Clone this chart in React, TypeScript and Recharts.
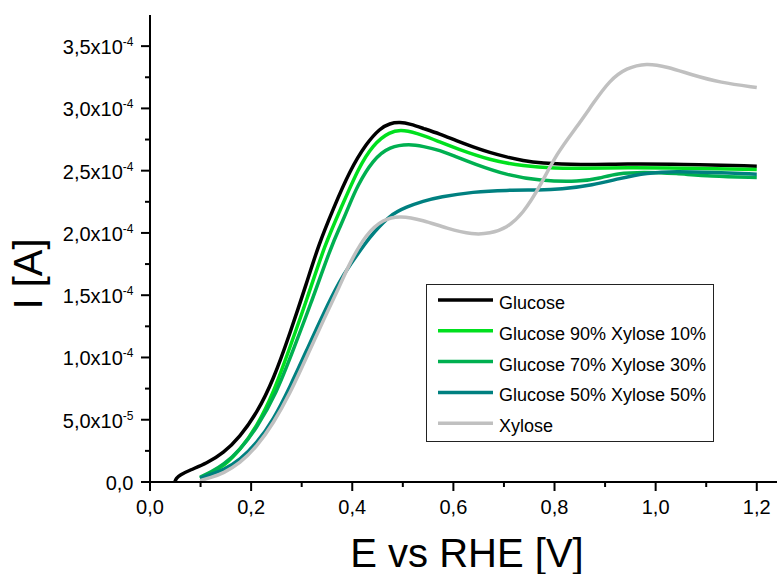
import React from 'react';
import { LineChart, Line, XAxis, YAxis, Legend } from 'recharts';

const FONT = '"Liberation Sans", Arial, Helvetica, sans-serif';

// potential E vs RHE [V] and current I [A], one pair of arrays per solution
const glucoseE = [0.049, 0.052, 0.059, 0.079, 0.112, 0.145, 0.178, 0.211, 0.244, 0.277, 0.31, 0.333, 0.362, 0.395, 0.428, 0.455, 0.474, 0.494, 0.515, 0.54, 0.573, 0.606, 0.639, 0.672, 0.705, 0.738, 0.771, 0.85, 0.942, 1.048, 1.2];
const glucoseI = [0, 0.3e-5, 0.56e-5, 0.96e-5, 1.5e-5, 2.3e-5, 3.64e-5, 5.51e-5, 8.19e-5, 11.96e-5, 16.0e-5, 19.0e-5, 21.9e-5, 25.0e-5, 27.2e-5, 28.4e-5, 28.8e-5, 28.9e-5, 28.75e-5, 28.4e-5, 27.95e-5, 27.4e-5, 26.9e-5, 26.45e-5, 26.1e-5, 25.8e-5, 25.6e-5, 25.45e-5, 25.55e-5, 25.52e-5, 25.36e-5];

const g90E = [0.099, 0.12, 0.145, 0.178, 0.211, 0.244, 0.277, 0.31, 0.346, 0.379, 0.412, 0.441, 0.474, 0.501, 0.54, 0.573, 0.606, 0.672, 0.738, 0.804, 0.85, 0.95, 1.048, 1.2];
const g90I = [0.3e-5, 0.75e-5, 1.23e-5, 2.57e-5, 4.44e-5, 7.12e-5, 10.86e-5, 14.61e-5, 19.1e-5, 22.1e-5, 25.2e-5, 27.1e-5, 28.15e-5, 28.3e-5, 27.85e-5, 27.3e-5, 26.78e-5, 25.84e-5, 25.36e-5, 25.18e-5, 25.18e-5, 25.25e-5, 25.2e-5, 25.1e-5];

const g70E = [0.099, 0.12, 0.145, 0.178, 0.211, 0.25, 0.283, 0.316, 0.359, 0.376, 0.395, 0.409, 0.441, 0.474, 0.514, 0.54, 0.573, 0.606, 0.639, 0.705, 0.771, 0.85, 0.89, 0.923, 0.975, 1.041, 1.107, 1.2];
const g70I = [0.38e-5, 0.8e-5, 1.36e-5, 2.57e-5, 4.33e-5, 7.12e-5, 10.59e-5, 14.07e-5, 19.0e-5, 20.49e-5, 22.3e-5, 23.7e-5, 25.9e-5, 26.95e-5, 27.15e-5, 26.95e-5, 26.65e-5, 26.1e-5, 25.58e-5, 24.64e-5, 24.18e-5, 24.1e-5, 24.4e-5, 24.78e-5, 24.9e-5, 24.78e-5, 24.56e-5, 24.46e-5];

const g50E = [0.099, 0.12, 0.145, 0.178, 0.211, 0.244, 0.277, 0.31, 0.343, 0.376, 0.395, 0.428, 0.441, 0.474, 0.508, 0.54, 0.573, 0.639, 0.705, 0.771, 0.811, 0.876, 0.929, 0.982, 1.041, 1.107, 1.2];
const g50I = [0.3e-5, 0.6e-5, 0.96e-5, 1.77e-5, 3.11e-5, 4.98e-5, 7.65e-5, 10.59e-5, 13.54e-5, 16.21e-5, 17.4e-5, 19.3e-5, 19.96e-5, 21.43e-5, 22.1e-5, 22.55e-5, 22.9e-5, 23.3e-5, 23.44e-5, 23.44e-5, 23.5e-5, 23.84e-5, 24.38e-5, 24.82e-5, 24.96e-5, 24.86e-5, 24.72e-5];

const xyloseE = [0.099, 0.12, 0.145, 0.178, 0.211, 0.244, 0.277, 0.31, 0.343, 0.376, 0.395, 0.428, 0.461, 0.494, 0.54, 0.587, 0.639, 0.672, 0.705, 0.738, 0.771, 0.804, 0.844, 0.876, 0.909, 0.942, 0.982, 1.022, 1.074, 1.127, 1.2];
const xyloseI = [0.1e-5, 0.35e-5, 0.7e-5, 1.5e-5, 2.83e-5, 4.71e-5, 7.12e-5, 10.06e-5, 13.0e-5, 15.81e-5, 17.6e-5, 19.96e-5, 21.1e-5, 21.4e-5, 21.03e-5, 20.36e-5, 19.85e-5, 19.96e-5, 20.36e-5, 21.57e-5, 23.7e-5, 26.38e-5, 28.5e-5, 30.39e-5, 32.26e-5, 33.25e-5, 33.65e-5, 33.35e-5, 32.67e-5, 32.08e-5, 31.68e-5];

const xTicks = [0, 0.1, 0.2, 0.3, 0.4, 0.5, 0.6, 0.7, 0.8, 0.9, 1.0, 1.1, 1.2];
const yTicks = [0, 2.5e-5, 5e-5, 7.5e-5, 1e-4, 1.25e-4, 1.5e-4, 1.75e-4, 2e-4, 2.25e-4, 2.5e-4, 2.75e-4, 3e-4, 3.25e-4, 3.5e-4];

const toPoints = (e: number[], i: number[]) => e.map((x, k) => ({ e: x, i: i[k] }));

const series = [
  { name: 'Glucose', color: '#000000', data: toPoints(glucoseE, glucoseI) },
  { name: 'Glucose 90% Xylose 10%', color: '#00E01E', data: toPoints(g90E, g90I) },
  { name: 'Glucose 70% Xylose 30%', color: '#00B050', data: toPoints(g70E, g70I) },
  { name: 'Glucose 50% Xylose 50%', color: '#008080', data: toPoints(g50E, g50I) },
  { name: 'Xylose', color: '#C0C0C0', data: toPoints(xyloseE, xyloseI) },
];

function sciLabel(v: number) {
  if (v === 0) return { mant: '0,0', exp: '' };
  const exp = Math.floor(Math.log10(v) + 1e-9);
  const mant = (v / Math.pow(10, exp)).toFixed(1).replace('.', ',');
  return { mant: mant + 'x10', exp: String(exp) };
}

const XTick = (props: any) => {
  const { x, y, payload } = props;
  const v = payload.value;
  const major = Math.round(v * 10) % 2 === 0;
  return (
    <g>
      <line x1={x} x2={x} y1={y} y2={y + (major ? 9 : 5)} stroke="#000" strokeWidth={2} />
      {major && (
        <text x={x} y={y + 32} textAnchor="middle" fontSize={20} fontFamily={FONT} fill="#000">
          {v.toFixed(1).replace('.', ',')}
        </text>
      )}
    </g>
  );
};

const YTick = (props: any) => {
  const { x, y, payload } = props;
  const v = payload.value;
  const major = Math.round(v / 2.5e-5) % 2 === 0;
  const lbl = sciLabel(v);
  return (
    <g>
      <line x1={x} x2={x - (major ? 9 : 5)} y1={y} y2={y} stroke="#000" strokeWidth={2} />
      {major && (
        <text x={x - 16.5} y={y + 8} textAnchor="end" fontSize={20} fontFamily={FONT} fill="#000">
          {lbl.mant}
          {lbl.exp && (
            <tspan dy={-8} fontSize={12}>
              {lbl.exp}
            </tspan>
          )}
        </text>
      )}
    </g>
  );
};

const LegendBox = () => (
  <svg width={288} height={158} style={{ display: 'block' }}>
    <rect x={0.5} y={0.5} width={287} height={157} fill="#fff" stroke="#222" strokeWidth={1} />
    {series.map((s, k) => {
      const cy = 16 + k * 30.8;
      return (
        <g key={s.name}>
          <line x1={12} x2={67} y1={cy} y2={cy} stroke={s.color} strokeWidth={3.5} />
          <text x={73} y={cy + 9} fontSize={18} fontFamily={FONT} fill="#000">
            {s.name}
          </text>
        </g>
      );
    })}
  </svg>
);

const XTitle = () => (
  <text x={467} y={567} textAnchor="middle" fontSize={40} fontFamily={FONT} fill="#000">
    E vs RHE [V]
  </text>
);

const YTitle = () => (
  <text x={41.5} y={274} textAnchor="middle" fontSize={40} fontFamily={FONT} fill="#000" transform="rotate(-90 41.5 274)">
    I [A]
  </text>
);

export default function App() {
  const axisLine = { stroke: '#000', strokeWidth: 2 };
  return (
    <div style={{ position: 'absolute', left: 0, top: 0, width: 778, height: 574, background: '#fff' }}>
      <LineChart width={778} height={574} margin={{ top: 15, right: 1, bottom: 0, left: 0 }}>
        <XAxis
          dataKey="e"
          type="number"
          domain={[0, 1.24]}
          ticks={xTicks}
          interval={0}
          height={92}
          tickSize={0}
          tickMargin={0}
          tickLine={false}
          axisLine={axisLine}
          tick={<XTick />}
          label={XTitle}
        />
        <XAxis
          xAxisId="top"
          orientation="top"
          type="number"
          domain={[0, 1.24]}
          height={0}
          tick={false}
          tickLine={false}
          axisLine={axisLine}
        />
        <YAxis
          type="number"
          domain={[0, 3.75e-4]}
          ticks={yTicks}
          interval={0}
          width={150}
          tickSize={0}
          tickMargin={0}
          tickLine={false}
          axisLine={axisLine}
          tick={<YTick />}
          label={YTitle}
        />
        {series.map((s) => (
          <Line
            key={s.name}
            data={s.data}
            dataKey="i"
            name={s.name}
            type="basis"
            stroke={s.color}
            strokeWidth={3.5}
            dot={false}
            activeDot={false}
            isAnimationActive={false}
          />
        ))}
        <Legend
          layout="vertical"
          align="center"
          verticalAlign="middle"
          wrapperStyle={{ left: 426, top: 284, width: 288, height: 158 }}
          content={() => <LegendBox />}
        />
      </LineChart>
    </div>
  );
}
